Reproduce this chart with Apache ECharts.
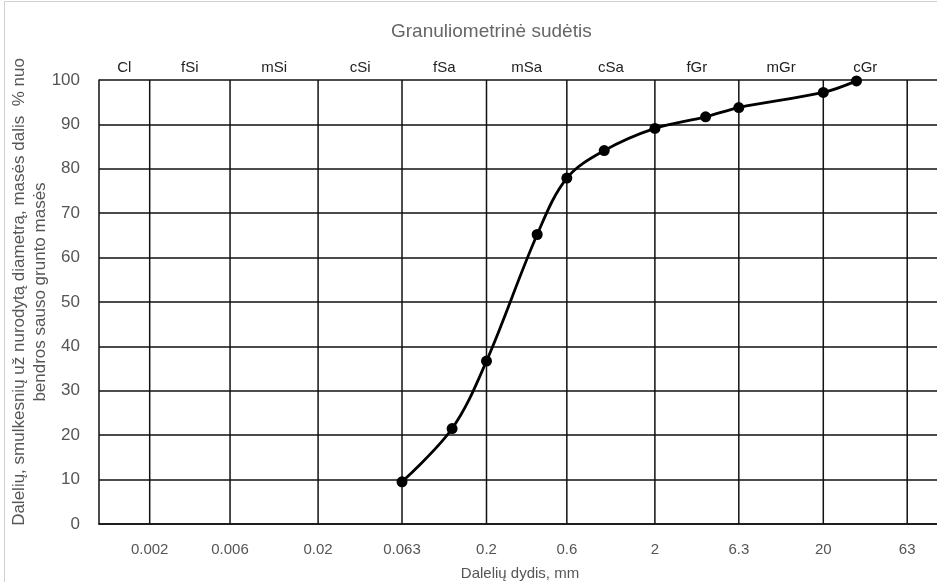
<!DOCTYPE html>
<html>
<head>
<meta charset="utf-8">
<script src="https://cdn.jsdelivr.net/npm/echarts@6/dist/echarts.min.js"></script>
<style>html,body{margin:0;padding:0;background:#fff}#c{width:937px;height:582px}</style>
</head>
<body>
<div id="c"></div>
<script>
// Sieve sizes, mm, and % passing
const sizes = [0.063, 0.125, 0.2, 0.4, 0.6, 1, 2, 4, 6.3, 20, 31.5];
const passing = [9.5, 21.5, 36.7, 65.2, 77.9, 84.1, 89.1, 91.7, 93.8, 97.2, 99.8];
// Fraction boundaries (tick labels on the x axis)
const bounds = [0.002, 0.006, 0.02, 0.063, 0.2, 0.6, 2, 6.3, 20, 63];
const boundLabels = ['0.002', '0.006', '0.02', '0.063', '0.2', '0.6', '2', '6.3', '20', '63'];
// Fraction names shown above the plot (between boundaries)
const fractions = ['Cl', 'fSi', 'mSi', 'cSi', 'fSa', 'mSa', 'cSa', 'fGr', 'mGr', 'cGr'];
const xMin = 0.001, xMax = 100;
const yMin = 0, yMax = 100;

const edges = [xMin].concat(bounds);
const mids = fractions.map((f, i) => Math.sqrt(edges[i] * edges[i + 1]));
function nearestIdx(arr, v) {
  let best = 0, bd = Infinity;
  arr.forEach((a, i) => { const d = Math.abs(Math.log(a) - Math.log(v)); if (d < bd) { bd = d; best = i; } });
  return best;
}

const FONT = 'Liberation Sans, Arial, sans-serif';
const gridSeries = bounds.map(b => ({
  type: 'line', silent: true, symbol: 'none', z: 1,
  data: [[b, yMin], [b, yMax]],
  lineStyle: { color: '#111', width: 1.5 },
  tooltip: { show: false }
}));

const chart = echarts.init(document.getElementById('c'));
chart.setOption({
  animation: false,
  backgroundColor: '#fff',
  textStyle: { fontFamily: FONT },
  graphic: [{
    type: 'rect', z: -10, silent: true,
    shape: { x: 4.5, y: 1.5, width: 1000, height: 1000 },
    style: { fill: 'none', stroke: '#d0d0d0', lineWidth: 1 }
  }],
  title: {
    text: 'Granuliometrinė sudėtis',
    left: 386, top: 17,
    textStyle: { fontFamily: FONT, fontSize: 19, fontWeight: 'normal', color: '#666' }
  },
  grid: { left: 99, top: 80, bottom: 58, right: -4, containLabel: false, outerBoundsMode: 'none' },
  xAxis: [{
    type: 'log', logBase: 10, min: xMin, max: xMax,
    name: 'Dalelių dydis, mm', nameLocation: 'middle', nameGap: 42,
    nameTextStyle: { fontFamily: FONT, fontSize: 15, color: '#555' },
    axisLine: { show: true, lineStyle: { color: '#111', width: 1.5 } },
    axisTick: { show: false },
    splitLine: { show: false },
    minorSplitLine: { show: false },
    axisLabel: {
      customValues: bounds,
      margin: 18, fontSize: 15, color: '#555', fontFamily: FONT,
      formatter: v => boundLabels[nearestIdx(bounds, v)]
    }
  }, {
    type: 'log', logBase: 10, min: xMin, max: xMax, position: 'top',
    axisLine: { show: false }, axisTick: { show: false }, splitLine: { show: false },
    axisLabel: {
      customValues: mids,
      margin: 5, fontSize: 15, color: '#222', fontFamily: FONT,
      formatter: v => fractions[nearestIdx(mids, v)]
    }
  }],
  yAxis: {
    type: 'value', min: yMin, max: yMax, interval: 10,
    name: 'Dalelių, smulkesnių už nurodytą diametrą, masės dalis  % nuo\nbendros sauso grunto masės',
    nameLocation: 'middle', nameGap: 48, nameRotate: 90, nameMoveOverlap: false,
    nameTextStyle: { fontFamily: FONT, fontSize: 17, color: '#555', lineHeight: 21, align: 'center', padding: [0, 0, 0, 20] },
    axisLine: { show: true, lineStyle: { color: '#111', width: 1.5 } },
    axisTick: { show: false },
    splitLine: { show: true, lineStyle: { color: '#111', width: 1.5 } },
    axisLabel: { margin: 19, fontSize: 17, color: '#555', fontFamily: FONT }
  },
  series: gridSeries.concat([{
    type: 'line',
    xAxisIndex: 0,
    data: sizes.map((s, i) => [s, passing[i]]),
    smooth: 0.35,
    symbol: 'circle', symbolSize: 11,
    lineStyle: { color: '#000', width: 2.8 },
    itemStyle: { color: '#000' },
    z: 5
  }])
});
</script>
</body>
</html>
